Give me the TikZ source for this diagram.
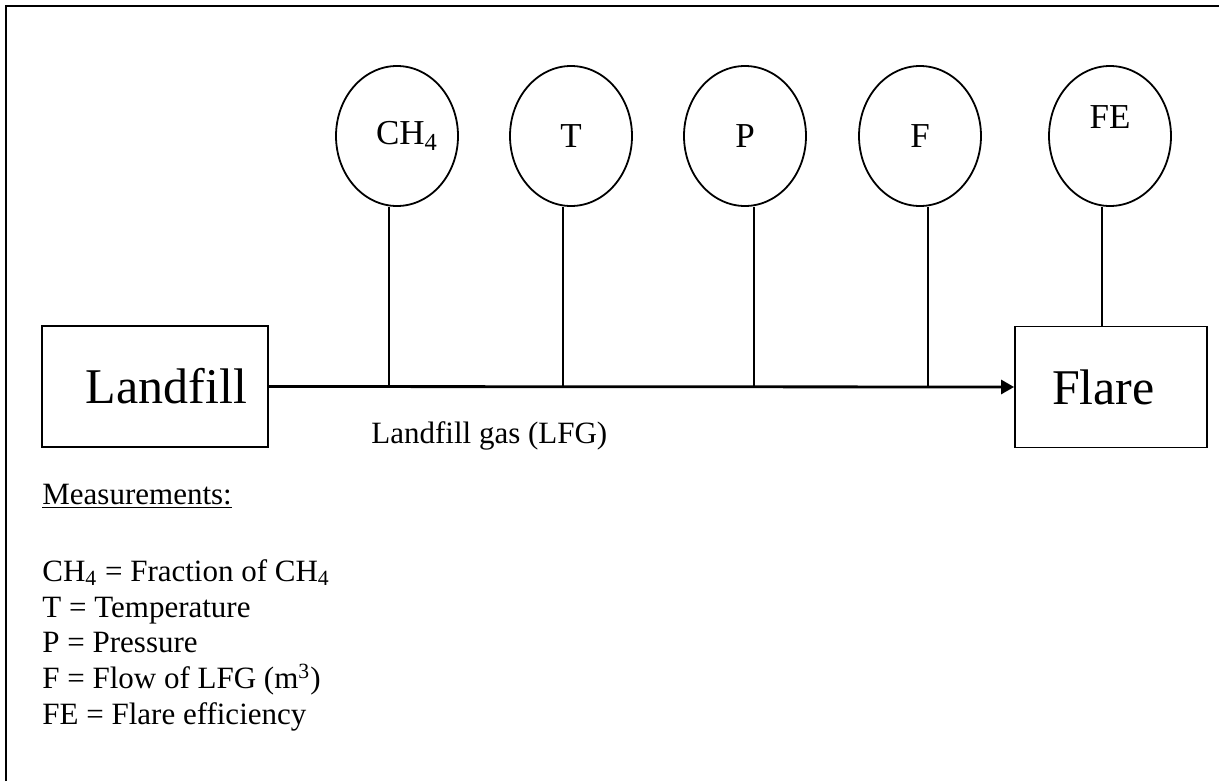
\documentclass[tikz,border=0pt]{standalone}
\usepackage{fontspec}
\setmainfont{Liberation Serif}
\usetikzlibrary{shapes.geometric,arrows.meta}

\begin{document}
\begin{tikzpicture}[x=0.5pt, y=-0.5pt,
  box/.style={draw, line width=0.9pt, minimum height=60.5pt,
              font=\fontsize{25}{30}\selectfont},
  meter/.style={draw, ellipse, line width=0.9pt, inner sep=0pt,
                minimum width=61pt, minimum height=70pt,
                font=\fontsize{17.5}{21}\selectfont},
  txt/.style={font=\fontsize{15.5}{17.9}\selectfont, inner sep=0pt},
  pipe/.style={line width=0.9pt},
  >={Triangle[length=6.5pt,width=7pt]}]
\useasboundingbox (0,0) rectangle (1219,781);
% frame, runs off the page at the right and the bottom
\draw[line width=1pt] (6,781) -- (6,6) -- (1219,6);

\node[box, text width=92pt, inner xsep=10.5pt, align=right] (landfill) at (155,386.5) {Landfill};
\node[box, text width=59pt, inner xsep=18.5pt, align=left] (flare) at (1111,387) {Flare};

\node[meter] (ch4) at (397,136) {\hspace{10pt}CH\textsubscript{4}};
\node[meter] (temp) at (571,136) {T};
\node[meter] (pres) at (745,136) {P};
\node[meter] (flow) at (920,136) {F};
\node[meter] (fe) at (1110,136) {};
\node[font=\fontsize{17.5}{21}\selectfont, inner sep=0pt] (fetxt) at (1110,117) {FE};

% tapping points on the gas line
\coordinate (j1) at (389,386.5);
\coordinate (j2) at (563,386.5);
\coordinate (j3) at (754,386.5);
\coordinate (j4) at (928,386.5);

\node[txt, anchor=base west] (lfg) at (371,443) {Landfill gas (LFG)};
\node[txt, anchor=base west] (title) at (42,504) {\underline{Measurements:}};
\node[txt, anchor=north west, align=left] (key) at (42,559) {CH\textsubscript{4} = Fraction of CH\textsubscript{4}\\
  T = Temperature\\ P = Pressure\\ F = Flow of LFG (m\textsuperscript{3})\\ FE = Flare efficiency};

\draw[->, line width=1.4pt] (landfill.east) -- (flare.west);
\draw[pipe] (j1) -- (j1 |- ch4.south); \draw[pipe] (j2) -- (j2 |- temp.south);
\draw[pipe] (j3) -- (j3 |- pres.south); \draw[pipe] (j4) -- (j4 |- flow.south);
\draw[pipe] ([xshift=-4pt]fe.south) -- ([xshift=-4pt]fe.south |- flare.north);
\end{tikzpicture}
\end{document}
